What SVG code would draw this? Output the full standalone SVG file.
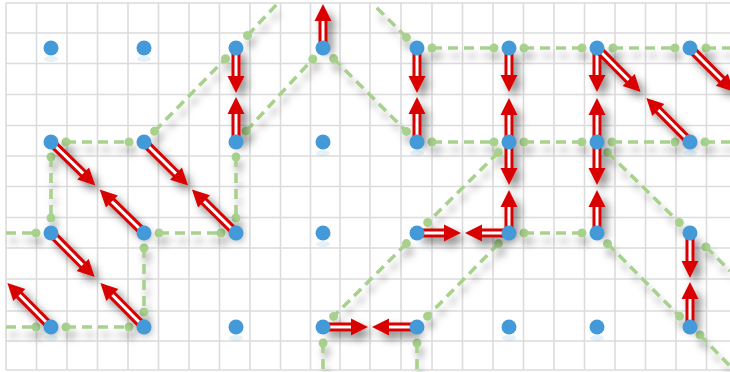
<svg xmlns="http://www.w3.org/2000/svg" width="730" height="372" viewBox="0 0 730 372">
<defs>
<style>
.grid{stroke:#dcdcdc;stroke-width:1.6;fill:none}
.lk{stroke:#a9d18e;stroke-width:3.6;stroke-dasharray:10 6;fill:none}
.gd{fill:#a9d18e}
.sh{stroke:#d80000;stroke-width:9;fill:none}
.gp{stroke:#ffffff;stroke-width:3;fill:none}
.hd{fill:#d80000}
.nd{fill:#4499d8}
.rf{fill:#4499d8;opacity:0.14}
</style>
<filter id="ash" x="-30%" y="-30%" width="160%" height="160%"><feDropShadow dx="5" dy="6" stdDeviation="4" flood-color="#000" flood-opacity="0.45"/></filter>
<filter id="gsh" x="-30%" y="-30%" width="160%" height="160%"><feDropShadow dx="3" dy="8" stdDeviation="3.5" flood-color="#000" flood-opacity="0.28"/></filter>
</defs>
<rect width="730" height="372" fill="#ffffff"/>
<g id="grid">
<path class="grid" d="M6,3V370M36.5,3V370M67,3V370M97.5,3V370M128,3V370M158.5,3V370M189,3V370M219.5,3V370M250,3V370M280.5,3V370M310.5,3V370M340,3V370M370,3V370M401,3V370M432,3V370M462.5,3V370M493,3V370M523.5,3V370M554,3V370M584.5,3V370M615,3V370M645.5,3V370M676,3V370M706.5,3V370"/>
<path class="grid" d="M6,3H730M6,33H730M6,63.5H730M6,94.5H730M6,125.5H730M6,156H730M6,186.5H730M6,217.5H730M6,248H730M6,279H730M6,311H730M6,341H730M6,370H730"/>
</g>
<g id="connectors">
<g id="links" filter="url(#gsh)">
<path class="lk" d="M66,142H129"/><circle class="gd" cx="66" cy="142" r="4.5"/><circle class="gd" cx="129" cy="142" r="4.5"/>
<path class="lk" d="M154.5,131.3L225.5,58.7"/><circle class="gd" cx="154.5" cy="131.3" r="4.5"/><circle class="gd" cx="225.5" cy="58.7" r="4.5"/>
<path class="lk" d="M247.5,35.5L278,3"/><circle class="gd" cx="247.5" cy="35.5" r="4.5"/>
<path class="lk" d="M246.2,131L312.8,59"/><circle class="gd" cx="246.2" cy="131" r="4.5"/><circle class="gd" cx="312.8" cy="59" r="4.5"/>
<path class="lk" d="M333.6,58.6L406.4,131.4"/><circle class="gd" cx="333.6" cy="58.6" r="4.5"/><circle class="gd" cx="406.4" cy="131.4" r="4.5"/>
<path class="lk" d="M406.4,37.4L373,4"/><circle class="gd" cx="406.4" cy="37.4" r="4.5"/>
<path class="lk" d="M432,48H494"/><circle class="gd" cx="432" cy="48" r="4.5"/><circle class="gd" cx="494" cy="48" r="4.5"/>
<path class="lk" d="M524,48H582"/><circle class="gd" cx="524" cy="48" r="4.5"/><circle class="gd" cx="582" cy="48" r="4.5"/>
<path class="lk" d="M613,48H675"/><circle class="gd" cx="613" cy="48" r="4.5"/><circle class="gd" cx="675" cy="48" r="4.5"/>
<path class="lk" d="M706,48H730"/><circle class="gd" cx="706" cy="48" r="4.5"/>
<path class="lk" d="M432,142H494"/><circle class="gd" cx="432" cy="142" r="4.5"/><circle class="gd" cx="494" cy="142" r="4.5"/>
<path class="lk" d="M524,142H582"/><circle class="gd" cx="524" cy="142" r="4.5"/><circle class="gd" cx="582" cy="142" r="4.5"/>
<path class="lk" d="M612,142H675"/><circle class="gd" cx="612" cy="142" r="4.5"/><circle class="gd" cx="675" cy="142" r="4.5"/>
<path class="lk" d="M705,142H730"/><circle class="gd" cx="705" cy="142" r="4.5"/>
<path class="lk" d="M498.3,152.5L427.7,222.5"/><circle class="gd" cx="498.3" cy="152.5" r="4.5"/><circle class="gd" cx="427.7" cy="222.5" r="4.5"/>
<path class="lk" d="M607.7,152.5L679.3,222.5"/><circle class="gd" cx="607.7" cy="152.5" r="4.5"/><circle class="gd" cx="679.3" cy="222.5" r="4.5"/>
<path class="lk" d="M706,247L730,271"/><circle class="gd" cx="706" cy="247" r="4.5"/>
<path class="lk" d="M524,233H582"/><circle class="gd" cx="524" cy="233" r="4.5"/><circle class="gd" cx="582" cy="233" r="4.5"/>
<path class="lk" d="M607.5,243.7L679.5,316.3"/><circle class="gd" cx="607.5" cy="243.7" r="4.5"/><circle class="gd" cx="679.5" cy="316.3" r="4.5"/>
<path class="lk" d="M700,335L730,366"/><circle class="gd" cx="700" cy="335" r="4.5"/>
<path class="lk" d="M498.5,243.7L427.5,316.3"/><circle class="gd" cx="498.5" cy="243.7" r="4.5"/><circle class="gd" cx="427.5" cy="316.3" r="4.5"/>
<path class="lk" d="M406.4,243.6L333.6,316.4"/><circle class="gd" cx="406.4" cy="243.6" r="4.5"/><circle class="gd" cx="333.6" cy="316.4" r="4.5"/>
<path class="lk" d="M323,343V370"/><circle class="gd" cx="323" cy="343" r="4.5"/>
<path class="lk" d="M417,343V370"/><circle class="gd" cx="417" cy="343" r="4.5"/>
<path class="lk" d="M51,157V218"/><circle class="gd" cx="51" cy="157" r="4.5"/><circle class="gd" cx="51" cy="218" r="4.5"/>
<path class="lk" d="M159,233H221"/><circle class="gd" cx="159" cy="233" r="4.5"/><circle class="gd" cx="221" cy="233" r="4.5"/>
<path class="lk" d="M236,157V218"/><circle class="gd" cx="236" cy="157" r="4.5"/><circle class="gd" cx="236" cy="218" r="4.5"/>
<path class="lk" d="M144,248V312"/><circle class="gd" cx="144" cy="248" r="4.5"/><circle class="gd" cx="144" cy="312" r="4.5"/>
<path class="lk" d="M6,233H36"/><circle class="gd" cx="36" cy="233" r="4.5"/>
<path class="lk" d="M6,327H36"/><circle class="gd" cx="36" cy="327" r="4.5"/>
<path class="lk" d="M66,327H129"/><circle class="gd" cx="66" cy="327" r="4.5"/><circle class="gd" cx="129" cy="327" r="4.5"/>
</g>
<g id="arrows" filter="url(#ash)">
<g transform="translate(236,48) rotate(90)"><path class="sh" d="M0,0H29"/><path class="gp" d="M0,0H29"/><path class="hd" d="M28,-8.5L45,0L28,8.5Z"/></g>
<g transform="translate(236,142) rotate(-90)"><path class="sh" d="M0,0H29"/><path class="gp" d="M0,0H29"/><path class="hd" d="M28,-8.5L45,0L28,8.5Z"/></g>
<g transform="translate(323,48) rotate(-90)"><path class="sh" d="M0,0H28"/><path class="gp" d="M0,0H28"/><path class="hd" d="M27,-8.5L44,0L27,8.5Z"/></g>
<g transform="translate(417,48) rotate(90)"><path class="sh" d="M0,0H29"/><path class="gp" d="M0,0H29"/><path class="hd" d="M28,-8.5L45,0L28,8.5Z"/></g>
<g transform="translate(417,142) rotate(-90)"><path class="sh" d="M0,0H29"/><path class="gp" d="M0,0H29"/><path class="hd" d="M28,-8.5L45,0L28,8.5Z"/></g>
<g transform="translate(509,48) rotate(90)"><path class="sh" d="M0,0H28"/><path class="gp" d="M0,0H28"/><path class="hd" d="M27,-8.5L44,0L27,8.5Z"/></g>
<g transform="translate(509,142) rotate(-90)"><path class="sh" d="M0,0H28"/><path class="gp" d="M0,0H28"/><path class="hd" d="M27,-8.5L44,0L27,8.5Z"/></g>
<g transform="translate(597,48) rotate(90)"><path class="sh" d="M0,0H28"/><path class="gp" d="M0,0H28"/><path class="hd" d="M27,-8.5L44,0L27,8.5Z"/></g>
<g transform="translate(597,142) rotate(-90)"><path class="sh" d="M0,0H28"/><path class="gp" d="M0,0H28"/><path class="hd" d="M27,-8.5L44,0L27,8.5Z"/></g>
<g transform="translate(597,48) rotate(45.3)"><path class="sh" d="M0,0H46"/><path class="gp" d="M0,0H46"/><path class="hd" d="M45,-8.5L62,0L45,8.5Z"/></g>
<g transform="translate(690,142) rotate(225.3)"><path class="sh" d="M0,0H46"/><path class="gp" d="M0,0H46"/><path class="hd" d="M45,-8.5L62,0L45,8.5Z"/></g>
<g transform="translate(690,48) rotate(45)"><path class="sh" d="M0,0H46"/><path class="gp" d="M0,0H46"/><path class="hd" d="M45,-8.5L62,0L45,8.5Z"/></g>
<g transform="translate(509,142) rotate(90)"><path class="sh" d="M0,0H27"/><path class="gp" d="M0,0H27"/><path class="hd" d="M26,-8.5L43,0L26,8.5Z"/></g>
<g transform="translate(509,233) rotate(-90)"><path class="sh" d="M0,0H27"/><path class="gp" d="M0,0H27"/><path class="hd" d="M26,-8.5L43,0L26,8.5Z"/></g>
<g transform="translate(597,142) rotate(90)"><path class="sh" d="M0,0H27"/><path class="gp" d="M0,0H27"/><path class="hd" d="M26,-8.5L43,0L26,8.5Z"/></g>
<g transform="translate(597,233) rotate(-90)"><path class="sh" d="M0,0H27"/><path class="gp" d="M0,0H27"/><path class="hd" d="M26,-8.5L43,0L26,8.5Z"/></g>
<g transform="translate(690,233) rotate(90)"><path class="sh" d="M0,0H29"/><path class="gp" d="M0,0H29"/><path class="hd" d="M28,-8.5L45,0L28,8.5Z"/></g>
<g transform="translate(690,327) rotate(-90)"><path class="sh" d="M0,0H29"/><path class="gp" d="M0,0H29"/><path class="hd" d="M28,-8.5L45,0L28,8.5Z"/></g>
<g transform="translate(417,233)"><path class="sh" d="M0,0H28"/><path class="gp" d="M0,0H28"/><path class="hd" d="M27,-8.5L44,0L27,8.5Z"/></g>
<g transform="translate(509,233) rotate(180)"><path class="sh" d="M0,0H28"/><path class="gp" d="M0,0H28"/><path class="hd" d="M27,-8.5L44,0L27,8.5Z"/></g>
<g transform="translate(323,327)"><path class="sh" d="M0,0H29"/><path class="gp" d="M0,0H29"/><path class="hd" d="M28,-8.5L45,0L28,8.5Z"/></g>
<g transform="translate(417,327) rotate(180)"><path class="sh" d="M0,0H29"/><path class="gp" d="M0,0H29"/><path class="hd" d="M28,-8.5L45,0L28,8.5Z"/></g>
<g transform="translate(51,142) rotate(44.4)"><path class="sh" d="M0,0H46"/><path class="gp" d="M0,0H46"/><path class="hd" d="M45,-8.5L62,0L45,8.5Z"/></g>
<g transform="translate(144,233) rotate(224.4)"><path class="sh" d="M0,0H46"/><path class="gp" d="M0,0H46"/><path class="hd" d="M45,-8.5L62,0L45,8.5Z"/></g>
<g transform="translate(144,142) rotate(44.7)"><path class="sh" d="M0,0H46"/><path class="gp" d="M0,0H46"/><path class="hd" d="M45,-8.5L62,0L45,8.5Z"/></g>
<g transform="translate(236,233) rotate(224.7)"><path class="sh" d="M0,0H46"/><path class="gp" d="M0,0H46"/><path class="hd" d="M45,-8.5L62,0L45,8.5Z"/></g>
<g transform="translate(51,233) rotate(45.3)"><path class="sh" d="M0,0H46"/><path class="gp" d="M0,0H46"/><path class="hd" d="M45,-8.5L62,0L45,8.5Z"/></g>
<g transform="translate(144,327) rotate(225.3)"><path class="sh" d="M0,0H46"/><path class="gp" d="M0,0H46"/><path class="hd" d="M45,-8.5L62,0L45,8.5Z"/></g>
<g transform="translate(51,327) rotate(225.3)"><path class="sh" d="M0,0H46"/><path class="gp" d="M0,0H46"/><path class="hd" d="M45,-8.5L62,0L45,8.5Z"/></g>
</g>
</g>
<g id="nodes">
<g id="n1-1"><ellipse class="rf" cx="51" cy="59" rx="7" ry="3"/><circle class="nd" cx="51" cy="48" r="7.5"/></g>
<g id="n1-2"><ellipse class="rf" cx="144" cy="59" rx="7" ry="3"/><circle class="nd" cx="144" cy="48" r="7.5"/></g>
<g id="n1-3"><circle class="nd" cx="236" cy="48" r="7.5"/></g>
<g id="n1-4"><circle class="nd" cx="323" cy="48" r="7.5"/></g>
<g id="n1-5"><circle class="nd" cx="417" cy="48" r="7.5"/></g>
<g id="n1-6"><circle class="nd" cx="509" cy="48" r="7.5"/></g>
<g id="n1-7"><circle class="nd" cx="597" cy="48" r="7.5"/></g>
<g id="n1-8"><circle class="nd" cx="690" cy="48" r="7.5"/></g>
<g id="n2-1"><circle class="nd" cx="51" cy="142" r="7.5"/></g>
<g id="n2-2"><circle class="nd" cx="144" cy="142" r="7.5"/></g>
<g id="n2-3"><circle class="nd" cx="236" cy="142" r="7.5"/></g>
<g id="n2-4"><ellipse class="rf" cx="323" cy="153" rx="7" ry="3"/><circle class="nd" cx="323" cy="142" r="7.5"/></g>
<g id="n2-5"><ellipse class="rf" cx="417" cy="153" rx="7" ry="3"/><circle class="nd" cx="417" cy="142" r="7.5"/></g>
<g id="n2-6"><circle class="nd" cx="509" cy="142" r="7.5"/></g>
<g id="n2-7"><circle class="nd" cx="597" cy="142" r="7.5"/></g>
<g id="n2-8"><ellipse class="rf" cx="690" cy="153" rx="7" ry="3"/><circle class="nd" cx="690" cy="142" r="7.5"/></g>
<g id="n3-1"><circle class="nd" cx="51" cy="233" r="7.5"/></g>
<g id="n3-2"><circle class="nd" cx="144" cy="233" r="7.5"/></g>
<g id="n3-3"><circle class="nd" cx="236" cy="233" r="7.5"/></g>
<g id="n3-4"><ellipse class="rf" cx="323" cy="244" rx="7" ry="3"/><circle class="nd" cx="323" cy="233" r="7.5"/></g>
<g id="n3-5"><circle class="nd" cx="417" cy="233" r="7.5"/></g>
<g id="n3-6"><circle class="nd" cx="509" cy="233" r="7.5"/></g>
<g id="n3-7"><circle class="nd" cx="597" cy="233" r="7.5"/></g>
<g id="n3-8"><circle class="nd" cx="690" cy="233" r="7.5"/></g>
<g id="n4-1"><ellipse class="rf" cx="51" cy="338" rx="7" ry="3"/><circle class="nd" cx="51" cy="327" r="7.5"/></g>
<g id="n4-2"><circle class="nd" cx="144" cy="327" r="7.5"/></g>
<g id="n4-3"><ellipse class="rf" cx="236" cy="338" rx="7" ry="3"/><circle class="nd" cx="236" cy="327" r="7.5"/></g>
<g id="n4-4"><circle class="nd" cx="323" cy="327" r="7.5"/></g>
<g id="n4-5"><circle class="nd" cx="417" cy="327" r="7.5"/></g>
<g id="n4-6"><ellipse class="rf" cx="509" cy="338" rx="7" ry="3"/><circle class="nd" cx="509" cy="327" r="7.5"/></g>
<g id="n4-7"><ellipse class="rf" cx="597" cy="338" rx="7" ry="3"/><circle class="nd" cx="597" cy="327" r="7.5"/></g>
<g id="n4-8"><circle class="nd" cx="690" cy="327" r="7.5"/></g>
</g>
</svg>
